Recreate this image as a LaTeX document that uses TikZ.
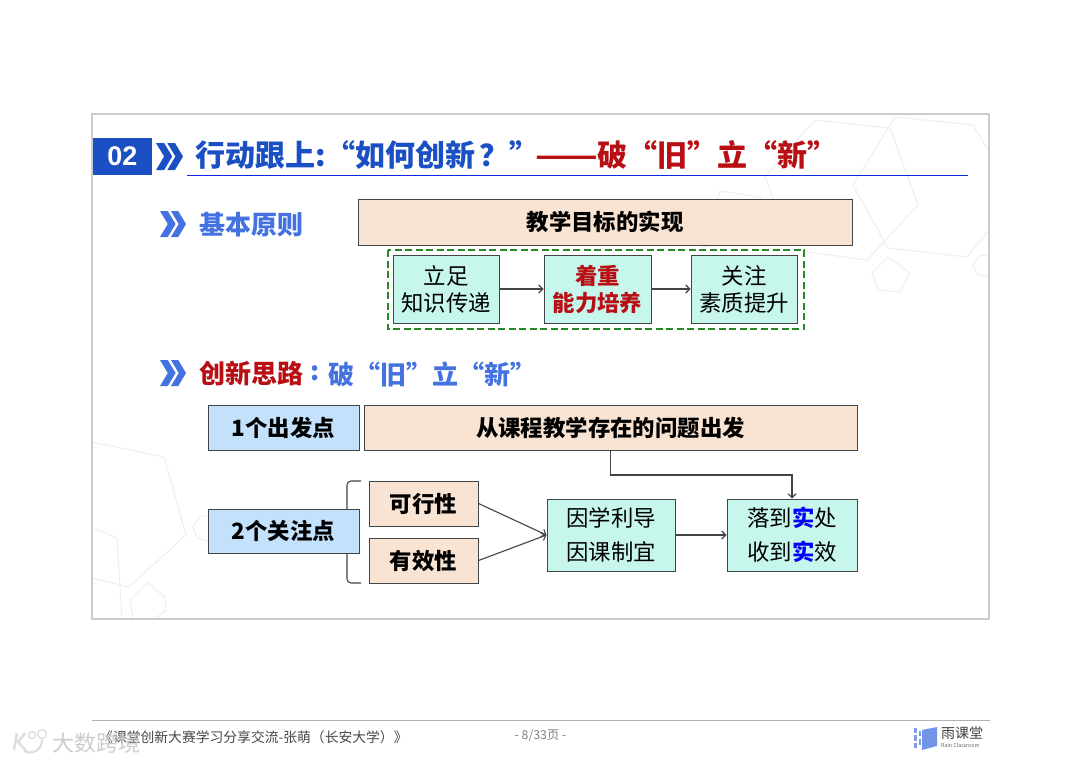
\documentclass[tikz,border=0pt]{standalone}
\usepackage{fontspec}
\setmainfont{Noto Sans CJK SC}
\newfontfamily\latinb{Liberation Sans}
\usetikzlibrary{arrows.meta,calc}
\definecolor{peach}{HTML}{F9E3D2}
\definecolor{mint}{HTML}{C6F6EC}
\definecolor{sky}{HTML}{C4E1FB}
\definecolor{edge}{HTML}{404548}
\definecolor{deepblue}{HTML}{1B4FC4}
\definecolor{midblue}{HTML}{4472E0}
\definecolor{darkred}{HTML}{B80F14}
\definecolor{hexgray}{HTML}{EDEFEE}
\newcommand{\fs}[1]{\fontsize{#1}{#1}\selectfont}
\newcommand{\chevron}[5]{% x y width height colour
  \fill[#5] (#1,#2) -- ++(#3*0.3,0) -- ++(#3*0.3,#4/2) -- ++(-#3*0.3,#4/2) -- ++(-#3*0.3,0) -- ++(#3*0.3,-#4/2) -- cycle;
  \fill[#5] (#1+#3*0.42,#2) -- ++(#3*0.28,0) -- ++(#3*0.3,#4/2) -- ++(-#3*0.3,#4/2) -- ++(-#3*0.28,0) -- ++(#3*0.3,-#4/2) -- cycle;}
\tikzset{
  x=1pt,y=-1pt,
  boxbase/.style={draw=edge,line width=1pt,inner sep=0pt,align=center,text=black},
  peachbox/.style={boxbase,fill=peach,font=\fs{22.4}\bfseries},
  skybox/.style={boxbase,fill=sky,font=\fs{22.4}\bfseries},
  mintbox/.style={boxbase,fill=mint,font=\fontsize{22.4}{27}\selectfont},
  mintwide/.style={boxbase,fill=mint,font=\fontsize{22.4}{34}\selectfont},
  link/.style={draw=edge,line width=1.1pt,-{Straight Barb[length=4pt,width=8pt]}},
  hexline/.style={draw=hexgray,line width=1pt},
  titlebig/.style={anchor=west,inner sep=0pt,font=\fs{30}\bfseries},
  subhead/.style={anchor=west,inner sep=0pt,font=\fs{26}\bfseries},
}
\begin{document}
\begin{tikzpicture}
\useasboundingbox (0,0) rectangle (1080,763);
\fill[white] (0,0) rectangle (1080,763);
% slide background hexagons
\begin{scope}
\clip (92,114) rectangle (989,619);
\draw[hexline] (815,120)--(890,128)--(918,205)--(867,260)--(793,250)--(765,177)--cycle;
\draw[hexline] (895,117)--(973,125)--(1000,170)--(995,223)--(967,257)--(888,248)--(853,185)--cycle;
\draw[hexline] (888,257)--(910,273)--(900,292)--(878,290)--(872,273)--cycle;
\draw[hexline] (980,255)--(995,257)--(995,277)--(978,275)--(973,265)--cycle;
\draw[hexline] (720,191)--(760,197)--(775,227)--(703,247)--cycle;
\draw[hexline] (92,442)--(164,457)--(186,535)--(129,587)--(92,578);
\draw[hexline] (92,527)--(117,538)--(122,620);
\draw[hexline] (147,583)--(165,597)--(166,610)--(155,619)--(133,619)--(130,600)--cycle;
\draw[hexline] (200,516)--(193,527)--(197,538)--(210,542)--(212,516)--cycle;
\end{scope}
\draw[draw=black!20,line width=1.2pt] (92,114) rectangle (989,619);
% title
\node[fill=deepblue,minimum width=59pt,minimum height=37pt,inner sep=0pt,text=white,font=\latinb\fs{27}\bfseries] (num) at (122.5,156.5) {02};
\chevron{156}{143}{27}{27}{deepblue}
\node[titlebig,text=deepblue] (title1) at (195,155) {行动跟上:“如何创新\hspace{4pt}？”};
\node[titlebig,text=darkred] (title2) at (535,155) {\scalebox{1.22}[1]{——}\hspace{-1pt}破“旧”立“新”};
\coordinate (ruleA) at (187,175);
\coordinate (ruleB) at (968,175);
\draw[blue!50!deepblue,line width=1pt] (ruleA) -- (ruleB);
% basic principle
\chevron{160}{211}{26}{26}{midblue}
\node[subhead,text=midblue] (basic) at (199,225) {基本原则};
\node[peachbox,minimum width=494pt,minimum height=46pt] (goal) at (605,222) {教学目标的实现};
\draw[draw=green!45!black!85,line width=1.1pt,dash pattern=on 7pt off 3.5pt,fill=white] (388,250) rectangle (804,329);
\node[mintbox,minimum width=106pt,minimum height=68pt] (p1) at (446,289) {立足\\知识传递};
\node[mintbox,minimum width=107pt,minimum height=68pt,text=darkred,font=\fontsize{22.4}{27}\selectfont\bfseries] (p2) at (597.5,289) {着重\\能力培养};
\node[mintbox,minimum width=106pt,minimum height=68pt] (p3) at (744,289) {关注\\素质提升};
\draw[link] (p1) -- (p2);
\draw[link] (p2) -- (p3);
% innovation idea
\chevron{160}{360}{26}{26}{midblue}
\node[subhead,text=darkred] (idea) at (199,374) {创新思路};
\node[inner sep=0pt,text=midblue,font=\fs{26}\bfseries] (colon) at (315,373) {:};
\node[subhead,text=midblue] (idea2) at (328.5,374) {破“旧”立“新”};
% brace behind the box
\coordinate (brA) at (361,481);
\coordinate (brB) at (361,583);
\draw[edge,line width=1.1pt,rounded corners=4pt] (brA) -- (347,481) -- (347,583) -- (brB);
\node[skybox,minimum width=151pt,minimum height=45pt] (one) at (283.5,427.5) {1个出发点};
\node[peachbox,minimum width=493pt,minimum height=45pt] (start) at (610.5,427.5) {从课程教学存在的问题出发};
\node[skybox,minimum width=151pt,minimum height=44pt] (two) at (283.5,531) {2个关注点};
\node[peachbox,minimum width=109pt,minimum height=45pt] (feas) at (423.5,503.5) {可行性};
\node[peachbox,minimum width=109pt,minimum height=45pt] (effe) at (423.5,560.5) {有效性};
\node[mintwide,minimum width=128pt,minimum height=72pt] (adapt) at (611,535) {因学利导\\因课制宜};
\node[mintwide,minimum width=130pt,minimum height=72pt] (land) at (792,535) {落到\textcolor{blue}{\bfseries 实}处\\收到\textcolor{blue}{\bfseries 实}效};
\draw[link] (feas.east) -- (adapt.west);
\draw[link] (effe.east) -- (adapt.west);
\draw[link] (adapt) -- (land);
\draw[link] (start.south) -- ++(0,24.5) -| (land.north);
% footer
\coordinate (footA) at (92,720.5);
\coordinate (footB) at (990,720.5);
\draw[black!30,line width=1pt] (footA) -- (footB);
\node[anchor=west,inner sep=0pt,text=black!72,font=\fs{13.8}] (foot) at (99,737) {《课堂创新大赛学习分享交流-张萌（长安大学）》};
\node[inner sep=0pt,text=black!50,font=\fs{12.3}] (page) at (540.5,735.5) {- 8/33页 -};
% rain classroom logo
\fill[midblue!75] (922,730)--(937,727)--(937,746)--(922,750)--cycle;
\foreach \yy/\hh in {728/5,735/6,743/5}{\fill[midblue!70] (914,\yy) rectangle ++(3,\hh);}
\foreach \yy/\hh in {731/5,739/6}{\fill[midblue!70] (918.5,\yy) rectangle ++(2,\hh);}
\node[anchor=west,inner sep=0pt,text=black!75,font=\fs{14}] (brand) at (941,733.5) {雨课堂};
\node[anchor=west,inner sep=0pt,text=black!60,font=\fs{5.3}] (brand2) at (941,745) {Rain Classroom};
% watermark
\draw[black!13,line width=2.5pt] (17,733) -- (14,750);
\draw[black!13,line width=2.5pt] (25,733) -- (18,742) -- (27,752);
\draw[black!13,line width=2pt] (24,751) arc[start angle=-120,end angle=10,radius=12pt];
\draw[black!13,line width=1.3pt] (32,735) circle[radius=3.5pt];
\draw[black!13,line width=1.3pt] (42,734) circle[radius=4.5pt];
\node[anchor=west,inner sep=0pt,text=black!20,font=\fs{22}] (mark) at (52,743) {大数跨境};
\end{tikzpicture}
\end{document}
